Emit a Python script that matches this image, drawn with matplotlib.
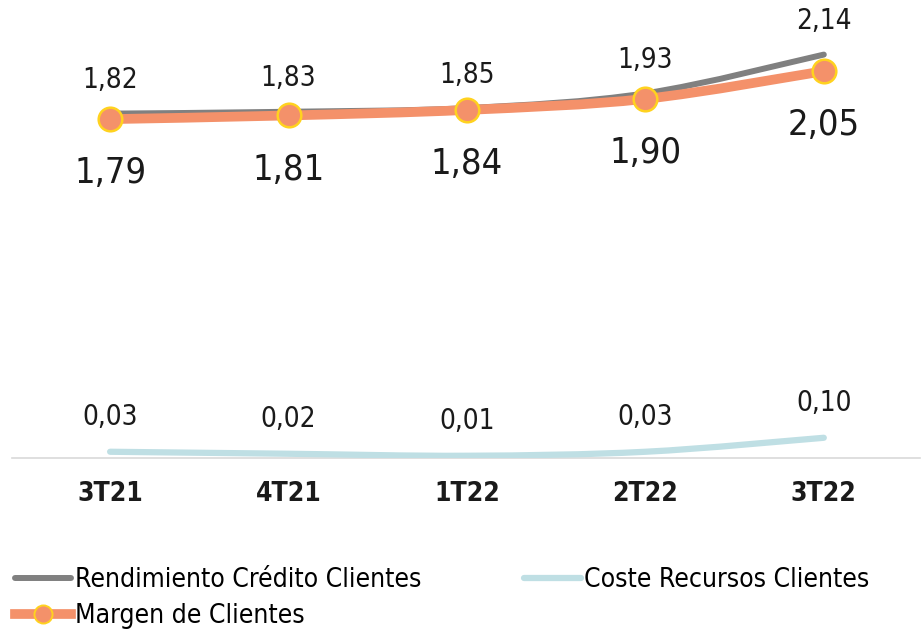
import matplotlib.pyplot as plt
from matplotlib.path import Path
from matplotlib.patches import PathPatch
from matplotlib.lines import Line2D

# datos
periodos = ['3T21', '4T21', '1T22', '2T22', '3T22']
rendimiento = [1.82, 1.83, 1.85, 1.93, 2.14]
margen = [1.79, 1.81, 1.84, 1.90, 2.05]
coste = [0.03, 0.02, 0.01, 0.03, 0.10]

c_gris = '#808080'
c_naranja = '#F4916A'
c_azul = '#BFDFE4'
c_borde = '#FFD21F'

plt.rcParams['font.family'] = ['DejaVu Sans']
plt.rcParams['font.stretch'] = 'condensed'


def curva(xs, ys):
    # trazo suavizado tipo Catmull-Rom con curvas de Bezier
    pts = list(zip(xs, ys))
    verts = [pts[0]]
    codes = [Path.MOVETO]
    n = len(pts)
    for i in range(n - 1):
        p0 = pts[max(i - 1, 0)]
        p1 = pts[i]
        p2 = pts[i + 1]
        p3 = pts[min(i + 2, n - 1)]
        c1 = (p1[0] + (p2[0] - p0[0]) / 6, p1[1] + (p2[1] - p0[1]) / 6)
        c2 = (p2[0] - (p3[0] - p1[0]) / 6, p2[1] - (p3[1] - p1[1]) / 6)
        verts += [c1, c2, p2]
        codes += [Path.CURVE4] * 3
    return Path(verts, codes)


fig = plt.figure(figsize=(9.22, 6.34), dpi=100)
ax = fig.add_axes([0.013, 0.278, 0.985, 0.69])
ax2 = ax.twinx()

x = list(range(len(periodos)))

ax.add_patch(PathPatch(curva(x, rendimiento), fill=False, color=c_gris,
                       lw=4.3, capstyle='round', zorder=3))
ax.add_patch(PathPatch(curva(x, margen), fill=False, color=c_naranja,
                       lw=7, capstyle='butt', zorder=4))
ax.plot(x, margen, 'o', ms=17, mfc=c_naranja, mec=c_borde, mew=1.8,
        ls='none', zorder=5)
ax2.add_patch(PathPatch(curva(x, coste), fill=False, color=c_azul,
                        lw=4.5, capstyle='round', zorder=3))

for xi, v in zip(x, rendimiento):
    ax.annotate(f'{v:.2f}'.replace('.', ','), (xi, v), xytext=(0, 24),
                textcoords='offset points', ha='center', va='center',
                fontsize=20, color='#1a1a1a')
for xi, v in zip(x, margen):
    ax.annotate(f'{v:.2f}'.replace('.', ','), (xi, v), xytext=(0, -39),
                textcoords='offset points', ha='center', va='center',
                fontsize=26, color='#1a1a1a')
for xi, v in zip(x, coste):
    ax2.annotate(f'{v:.2f}'.replace('.', ','), (xi, v), xytext=(0, 25),
                 textcoords='offset points', ha='center', va='center',
                 fontsize=20, color='#1a1a1a')

ax.set_xlim(-0.55, 4.54)
ax.set_ylim(-0.046, 2.326)
ax2.set_ylim(0, 2.19)

ax.set_xticks(x)
ax.set_xticklabels(periodos, fontsize=19, fontweight='bold', color='#1a1a1a')
ax.tick_params(axis='x', length=0, pad=17)
ax.set_yticks([])
ax2.set_yticks([])
for a in (ax, ax2):
    for s in ['top', 'right', 'left', 'bottom']:
        a.spines[s].set_visible(False)
ax.spines['bottom'].set_visible(True)
ax.spines['bottom'].set_color('#D9D9D9')
ax.spines['bottom'].set_linewidth(1.2)

handles = [
    Line2D([], [], color=c_gris, lw=4.3, solid_capstyle='round'),
    Line2D([], [], color=c_naranja, lw=7, marker='o', ms=13,
           mfc=c_naranja, mec=c_borde, mew=1.4),
    Line2D([], [], color=c_azul, lw=4.5, solid_capstyle='round'),
]
labels = ['Rendimiento Crédito Clientes', 'Margen de Clientes',
          'Coste Recursos Clientes']
fig.legend(handles, labels, loc='upper left', bbox_to_anchor=(0.016, 0.106),
           ncol=2, frameon=False, fontsize=19, handlelength=2.15,
           handletextpad=0.12, columnspacing=3.9, labelspacing=0.38,
           borderaxespad=0, borderpad=0)

fig.savefig('out.png', dpi=100)
